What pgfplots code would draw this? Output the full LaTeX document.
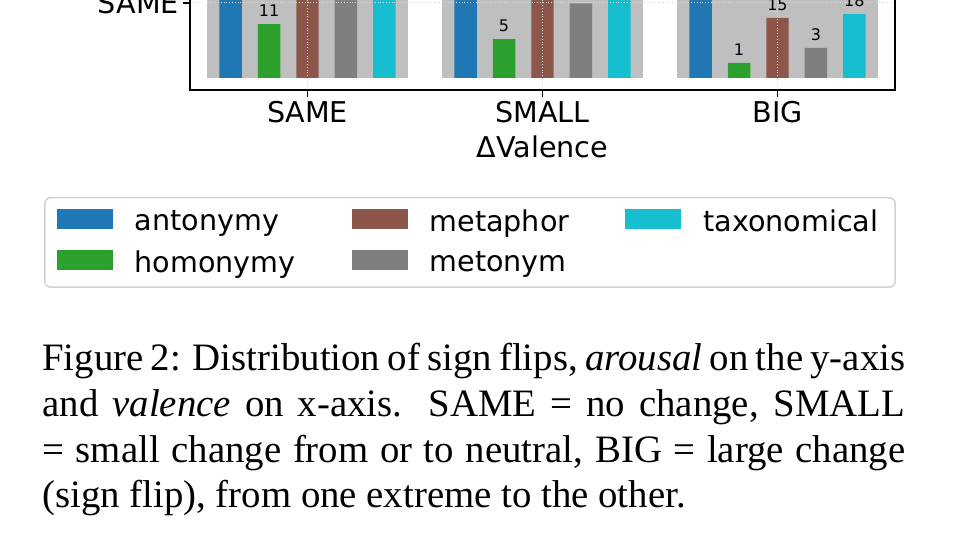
\documentclass[border=0pt]{standalone}
\usepackage{fontspec}
\usepackage{pgfplots}
\usepackage{pgfplotstable}
\pgfplotsset{compat=1.18}
\setmainfont{Liberation Serif}
\newfontfamily\dejavu{DejaVu Sans}
\newcommand\chartfont{\dejavu\fontsize{14.3pt}{17pt}\selectfont}
\newcommand\barfont{\dejavu\fontsize{8pt}{9.6pt}\selectfont}

\definecolor{cblue}{HTML}{1F77B4}
\definecolor{cgreen}{HTML}{2CA02C}
\definecolor{cbrown}{HTML}{8C564B}
\definecolor{cgrey}{HTML}{7F7F7F}
\definecolor{ccyan}{HTML}{17BECF}

% counts per relation type, arousal = SAME row; x: 0 SAME, 1 SMALL, 2 BIG valence
\pgfplotstableread{
x antonymy homonymy metaphor metonym taxonomical
0 95 11 160 110 210
1 60 5 85 30 70
2 48 1 15 3 18
}\arousalsame

\begin{document}
\begin{tikzpicture}
\useasboundingbox (0,0) rectangle (480pt,270pt);
\begin{axis}[
    at={(95pt,225pt)}, anchor=south west,
    x=117.5pt, y=25pt,
    xmin=-0.5, xmax=2.5, ymin=-0.24, ymax=4,
    xtick={0,1,2}, xticklabels={SAME,SMALL,BIG},
    ytick={1.5}, yticklabels={SAME},
    xtick pos=left, ytick pos=left,
    tick align=outside, major tick length=3.5pt,
    every tick/.style={black, line width=0.8pt},
    axis line style={line width=0.8pt},
    ticklabel style={font=\chartfont},
    xticklabel style={yshift=1.5pt},
    yticklabel style={xshift=1.5pt},
    xlabel={ΔValence},
    xlabel style={font=\chartfont, at={(axis description cs:0.5,0)}, anchor=base, yshift=-34pt},
    grid=major, grid style={densely dotted, gray!30, line width=0.5pt},
    axis on top,
    /pgf/number format/assume math mode=true,
    legend columns=3,
    legend image code/.code={\fill[#1, sharp corners] (0pt,-3.5pt) rectangle (28pt,6.5pt);},
    legend style={
        font=\chartfont,
        at={(axis description cs:1.0014,-0.5047)}, anchor=north east,
        draw=gray!35, line width=0.75pt, rounded corners=3pt,
        inner xsep=6pt, inner ysep=4pt,
        nodes={inner xsep=2.5pt, inner ysep=2pt},
        row sep=4pt,
        /tikz/every odd column/.append style={column sep=8.5pt},
        /tikz/every even column/.append style={column sep=25.5pt},
    },
    legend cell align=left,
    nodes near coords style={font=\barfont, black},
]
% grey background block of each cell
\addplot[ybar, bar width=0.855, bar shift=0pt, fill=gray!50, draw=none, forget plot]
    coordinates {(0,3.5) (1,3.5) (2,3.5)};

% bar height = log10(1+count); plot order gives the legend layout
\addplot[ybar, bar width=0.0957, bar shift=0pt, fill=cblue, draw=none,
    point meta=explicit, nodes near coords]
    table[x expr=\thisrow{x}-0.327, y expr={log10(1+\thisrow{antonymy})}, meta=antonymy] {\arousalsame};
\addlegendentry{antonymy}
\addplot[ybar, bar width=0.0957, bar shift=0pt, fill=cbrown, draw=none,
    point meta=explicit, nodes near coords]
    table[x expr=\thisrow{x}, y expr={log10(1+\thisrow{metaphor})}, meta=metaphor] {\arousalsame};
\addlegendentry{metaphor}
\addplot[ybar, bar width=0.0957, bar shift=0pt, fill=ccyan, draw=none,
    point meta=explicit, nodes near coords]
    table[x expr=\thisrow{x}+0.327, y expr={log10(1+\thisrow{taxonomical})}, meta=taxonomical] {\arousalsame};
\addlegendentry{taxonomical}
\addplot[ybar, bar width=0.0957, bar shift=0pt, fill=cgreen, draw=none,
    point meta=explicit, nodes near coords]
    table[x expr=\thisrow{x}-0.1635, y expr={log10(1+\thisrow{homonymy})}, meta=homonymy] {\arousalsame};
\addlegendentry{homonymy}
\addplot[ybar, bar width=0.0957, bar shift=0pt, fill=cgrey, draw=none,
    point meta=explicit, nodes near coords]
    table[x expr=\thisrow{x}+0.1635, y expr={log10(1+\thisrow{metonym})}, meta=metonym] {\arousalsame};
\addlegendentry{metonym}
\end{axis}

\node[anchor=base west, inner sep=0pt] at (21pt,84.5pt) {\parbox[t]{431.5pt}{%
  \fontsize{19.4pt}{22.8pt}\selectfont\setlength{\parindent}{0pt}%
  \makebox[\linewidth][s]{Figure 2: Distribution of sign flips, \textit{arousal} on the y-axis}\\
  \makebox[\linewidth][s]{and \textit{valence} on x-axis.  SAME = no change, SMALL}\\
  \makebox[\linewidth][s]{= small change from or to neutral, BIG = large change}\\
  (sign flip), from one extreme to the other.}};
\end{tikzpicture}
\end{document}
